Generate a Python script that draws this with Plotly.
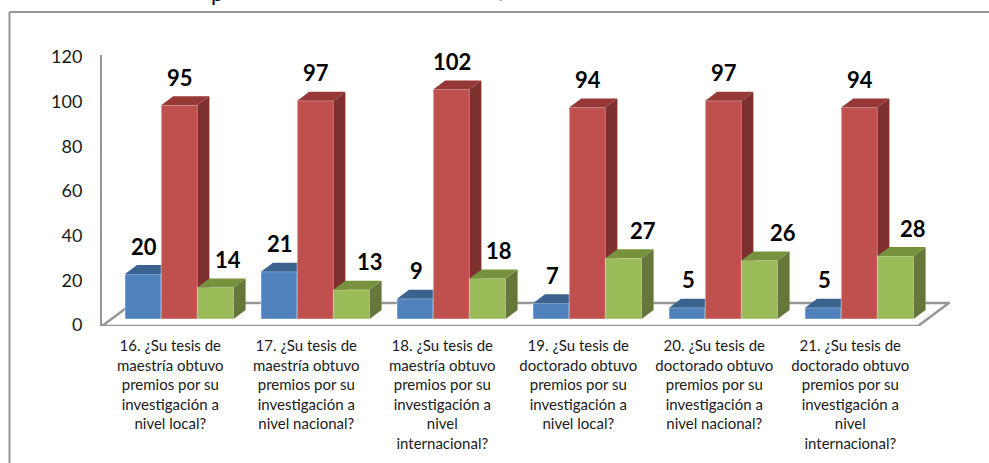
import plotly.graph_objects as go

categories = [
    "16. ¿Su tesis de<br>maestría obtuvo<br>premios por su<br>investigación a<br>nivel local?",
    "17. ¿Su tesis de<br>maestría obtuvo<br>premios por su<br>investigación a<br>nivel nacional?",
    "18. ¿Su tesis de<br>maestría obtuvo<br>premios por su<br>investigación a<br>nivel<br>internacional?",
    "19. ¿Su tesis de<br>doctorado obtuvo<br>premios por su<br>investigación a<br>nivel local?",
    "20. ¿Su tesis de<br>doctorado obtuvo<br>premios por su<br>investigación a<br>nivel nacional?",
    "21. ¿Su tesis de<br>doctorado obtuvo<br>premios por su<br>investigación a<br>nivel<br>internacional?",
]
blue_values = [20, 21, 9, 7, 5, 5]
red_values = [95, 97, 102, 94, 97, 94]
green_values = [14, 13, 18, 27, 26, 28]
y_ticks = [0, 20, 40, 60, 80, 100, 120]

W, H = 989, 463
PLOT_L, PLOT_R, PLOT_T, PLOT_B = 102, 950, 55, 326
GROUP_PX = 136.0
FIRST_CENTER = 179.3
BASE_PX = 319.0
UNIT_PX = 2.25
TICK_ZERO_PX, TICK_UNIT_PX = 325.0, 2.233
BAR_W = 36.2 / GROUP_PX
DEPTH_X = 12.0 / GROUP_PX
DEPTH_Y = 9.0 / UNIT_PX
GRAY = "#969696"


def px2x(p):
    return (p - FIRST_CENTER) / GROUP_PX


def py2y(p):
    return (BASE_PX - p) / UNIT_PX


x_range = [px2x(PLOT_L), px2x(PLOT_R)]
y_range = [py2y(PLOT_B), py2y(PLOT_T)]
tick_range = [(TICK_ZERO_PX - PLOT_B) / TICK_UNIT_PX, (TICK_ZERO_PX - PLOT_T) / TICK_UNIT_PX]
x_domain = [PLOT_L / W, PLOT_R / W]
y_domain = [(H - PLOT_B) / H, (H - PLOT_T) / H]

series = [
    dict(name="Blue", values=blue_values, offset=-1.5 * BAR_W, front="#4F81BD", top="#3B6390", side="#3B6390",
         label_dx=[1, 1, 1, 1, 1, 1], xa="x", ya="y"),
    dict(name="Red", values=red_values, offset=-0.5 * BAR_W, front="#C0504D", top="#953836", side="#7D302E",
         label_dx=[1, 1, 1, 1, 1, 1], xa="x2", ya="y2"),
    dict(name="Green", values=green_values, offset=0.5 * BAR_W, front="#9BBB59", top="#76923C", side="#66773A",
         label_dx=[12, 18, 11, 19, 23, 17], xa="x3", ya="y3"),
]

fig = go.Figure()
annotations = []
for s in series:
    xs_idx = list(range(len(s["values"])))
    fig.add_trace(go.Bar(
        x=xs_idx, y=s["values"], width=BAR_W, offset=s["offset"], name=s["name"],
        marker=dict(color=s["front"], line=dict(color="rgba(255,255,255,0.45)", width=1)),
        xaxis=s["xa"], yaxis=s["ya"], showlegend=False, hoverinfo="y",
    ))
    top_x, top_y, side_x, side_y = [], [], [], []
    for i, v in zip(xs_idx, s["values"]):
        l = i + s["offset"]
        r = l + BAR_W
        top_x += [l, r, r + DEPTH_X, l + DEPTH_X, l, None]
        top_y += [v, v, v + DEPTH_Y, v + DEPTH_Y, v, None]
        side_x += [r, r + DEPTH_X, r + DEPTH_X, r, r, None]
        side_y += [0, DEPTH_Y, v + DEPTH_Y, v, 0, None]
        annotations.append(dict(
            x=l + BAR_W / 2, y=v, xref=s["xa"], yref=s["ya"], text=f"<b>{v}</b>", showarrow=False,
            xshift=s["label_dx"][i], yshift=28, yanchor="middle", xanchor="center",
            font=dict(family="Lato", size=22, color="#000000"),
        ))
    for fx, fy, col in ((side_x, side_y, s["side"]), (top_x, top_y, s["top"])):
        fig.add_trace(go.Scatter(
            x=fx, y=fy, mode="lines", fill="toself", fillcolor=col, line=dict(width=0, color=col),
            xaxis=s["xa"], yaxis=s["ya"], showlegend=False, hoverinfo="skip",
        ))

# empty trace so that the value axis (offset from the bar base, as in the 3-D original) is drawn
fig.add_trace(go.Scatter(x=[None], y=[None], xaxis="x", yaxis="y4", showlegend=False, hoverinfo="skip"))

# cropped descenders of the title above the frame
for ch, cx, cy in (("p", 217, 8), (",", 501, 5)):
    annotations.append(dict(
        x=cx / W, y=1, xref="paper", yref="paper", text=ch, showarrow=False, yanchor="bottom", xanchor="center",
        yshift=-cy, font=dict(family="Lato", size=22, color="#000000"),
    ))

floor = [(PLOT_L, PLOT_B), (918, PLOT_B), (949, 303), (133, 303)]
floor_path = "M " + " L ".join(f"{px2x(a)},{py2y(b)}" for a, b in floor) + " Z"
shapes = [
    dict(type="path", path=floor_path, xref="x", yref="y", layer="below", fillcolor="#FFFFFF",
         line=dict(color=GRAY, width=2.5)),
    dict(type="line", xref="paper", yref="paper", x0=9.5 / W, x1=9.5 / W, y0=0, y1=(H - 12) / H,
         line=dict(color=GRAY, width=2)),
    dict(type="line", xref="paper", yref="paper", x0=9.5 / W, x1=1, y0=(H - 12) / H, y1=(H - 12) / H,
         line=dict(color=GRAY, width=2)),
]

hidden_x = dict(range=x_range, domain=x_domain, visible=False, overlaying="x", fixedrange=True)
hidden_y = dict(range=y_range, domain=y_domain, visible=False, overlaying="y", fixedrange=True)

fig.update_layout(
    width=W, height=H, autosize=False, margin=dict(l=0, r=0, t=0, b=0),
    paper_bgcolor="#FFFFFF", plot_bgcolor="rgba(0,0,0,0)", showlegend=False, barmode="overlay",
    annotations=annotations, shapes=shapes,
    xaxis=dict(range=x_range, domain=x_domain, tickmode="array", tickvals=list(range(len(categories))),
               ticktext=categories, showgrid=False, zeroline=False, showline=False, ticks="",
               tickangle=0, ticklabelshift=-9, ticklabelstandoff=9, automargin=False, fixedrange=True,
               tickfont=dict(family="Lato", size=15, color="#1A1A1A")),
    yaxis=dict(range=y_range, domain=y_domain, visible=False, fixedrange=True),
    xaxis2=hidden_x, xaxis3=hidden_x,
    yaxis2=hidden_y, yaxis3=hidden_y,
    yaxis4=dict(range=tick_range, domain=y_domain, overlaying="y", anchor="x", side="left", tickmode="array",
                tickvals=y_ticks, showgrid=False, zeroline=False, showline=True, linecolor=GRAY, linewidth=2,
                ticks="", ticklabelstandoff=14, automargin=False, fixedrange=True,
                tickfont=dict(family="Lato", size=18, color="#1A1A1A")),
)

fig.write_html("out.html", config={"displayModeBar": False},
               post_script="document.body.style.margin='0';document.body.style.overflow='hidden';")
